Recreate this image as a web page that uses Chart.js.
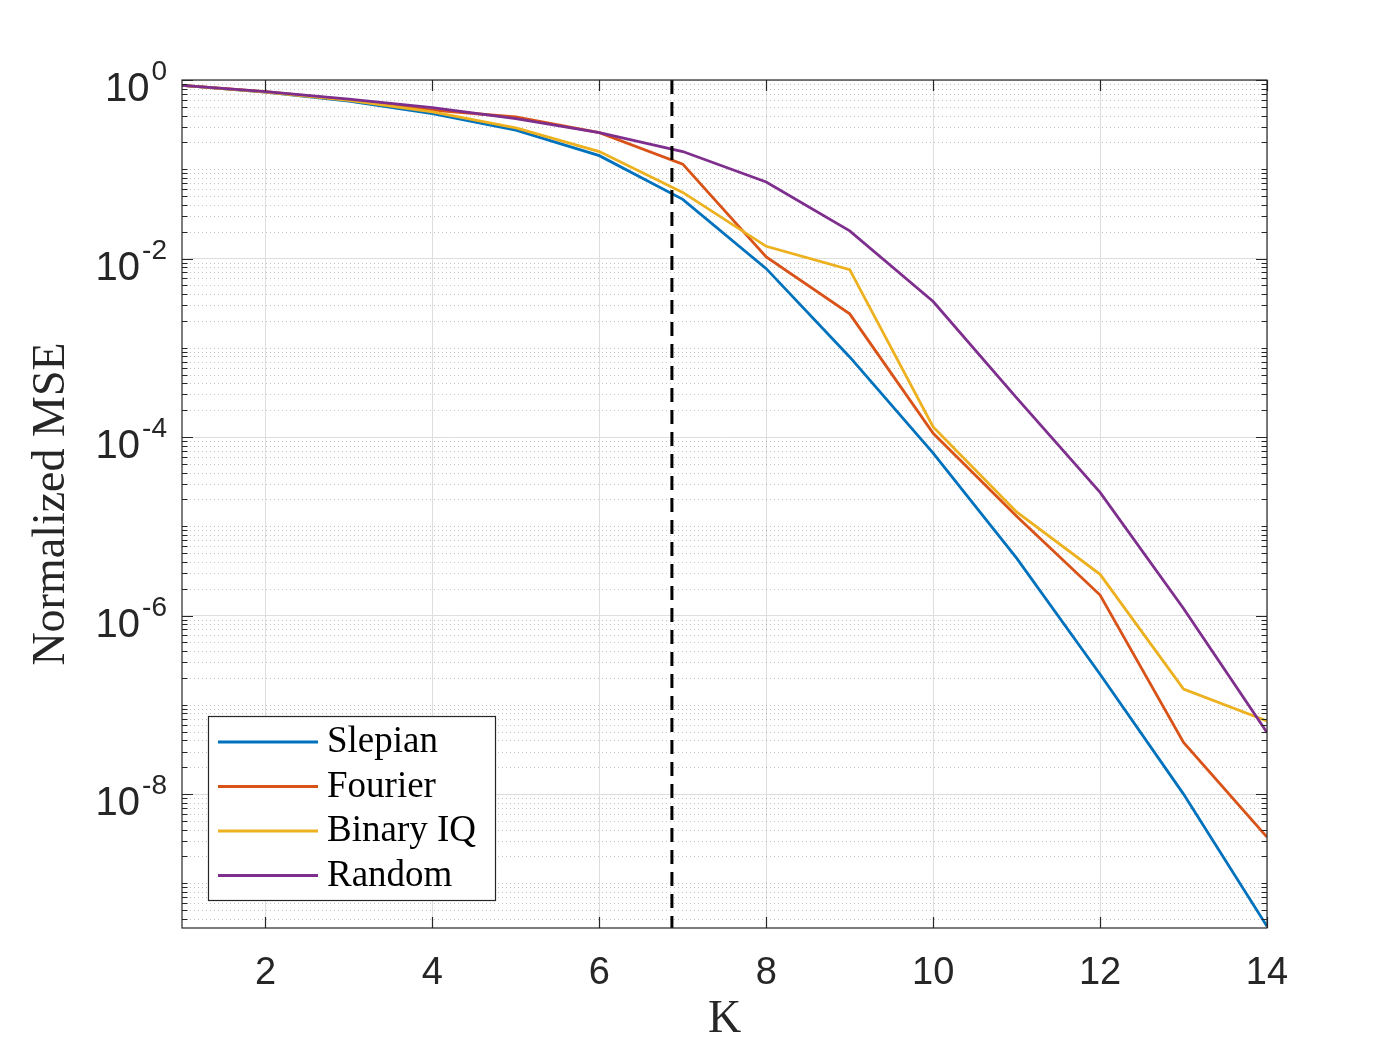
<!DOCTYPE html>
<html>
<head>
<meta charset="utf-8">
<title>Normalized MSE vs K</title>
<script src="https://cdn.jsdelivr.net/npm/chart.js@4.4.1/dist/chart.umd.min.js"></script>
<style>
  html, body { margin: 0; padding: 0; background: #fff; }
  #wrap { width: 1400px; height: 1050px; }
</style>
</head>
<body>
<div id="wrap"><canvas id="chart" width="1400" height="1050"></canvas></div>
<script>
// Valores (K = 1..14)
const kValues = [1, 2, 3, 4, 5, 6, 7, 8, 9, 10, 11, 12, 13, 14];
const slepian = [0.87, 0.73, 0.58, 0.42, 0.275, 0.142, 0.046, 0.0077, 7.9e-4, 6.6e-5, 4.4e-6, 2.2e-7, 1.0e-8, 3.3e-10];
const fourier = [0.87, 0.74, 0.6, 0.46, 0.385, 0.257, 0.114, 0.0104, 0.0024, 1.1e-4, 1.3e-5, 1.7e-6, 3.8e-8, 3.3e-9];
const binaryIQ = [0.87, 0.73, 0.59, 0.44, 0.29, 0.158, 0.055, 0.0137, 0.0075, 1.3e-4, 1.45e-5, 2.9e-6, 1.5e-7, 6.6e-8];
const random = [0.87, 0.74, 0.61, 0.49, 0.37, 0.257, 0.158, 0.072, 0.0204, 3.3e-3, 2.75e-4, 2.4e-5, 1.2e-6, 4.9e-8];

// Linha tracejada vertical
const kThreshold = 6.87;

// Eixos
const xMin = 1, xMax = 14;
const yMin = Math.pow(10, -9.5), yMax = 1;
const xTicks = [2, 4, 6, 8, 10, 12, 14];
const yTickExps = [0, -2, -4, -6, -8];
const yTicks = yTickExps.map(e => Math.pow(10, e));

const seriesNames = ['Slepian', 'Fourier', 'Binary IQ', 'Random'];
const seriesData = [slepian, fourier, binaryIQ, random];
const seriesColors = ['#0072BD', '#D95319', '#EDB120', '#7E2F8E'];

const axisColor = '#262626';
const sansFont = '"Liberation Sans", Arial, sans-serif';
const serifFont = '"Liberation Serif", "Times New Roman", serif';

// Plugin para desenhar grade menor, caixa, marcas, rótulos e legenda no estilo MATLAB
const matlabAxes = {
  id: 'matlabAxes',
  beforeDatasetsDraw(chart) {
    const { ctx, chartArea: a, scales: { y } } = chart;
    ctx.save();
    ctx.strokeStyle = 'rgba(38,38,38,0.28)';
    ctx.lineWidth = 1;
    ctx.setLineDash([1, 3]);
    for (let d = -10; d <= 0; d++) {
      for (let k = 1; k <= 9; k++) {
        const v = k * Math.pow(10, d);
        if (v < yMin || v > yMax) continue;
        if (k === 1 && d % 2 === 0) continue;
        const p = Math.round(y.getPixelForValue(v)) + 0.5;
        ctx.beginPath();
        ctx.moveTo(a.left, p);
        ctx.lineTo(a.right, p);
        ctx.stroke();
      }
    }
    ctx.restore();
  },
  afterDraw(chart) {
    const { ctx, chartArea: a, scales: { x, y } } = chart;
    ctx.save();
    ctx.strokeStyle = axisColor;
    ctx.lineWidth = 1.2;
    ctx.setLineDash([]);

    // Caixa
    ctx.strokeRect(a.left, a.top, a.right - a.left, a.bottom - a.top);

    // Marcas do eixo x (para dentro, em baixo e em cima)
    xTicks.forEach(v => {
      const p = Math.round(x.getPixelForValue(v)) + 0.5;
      ctx.beginPath();
      ctx.moveTo(p, a.bottom); ctx.lineTo(p, a.bottom - 11);
      ctx.moveTo(p, a.top); ctx.lineTo(p, a.top + 11);
      ctx.stroke();
    });

    // Marcas do eixo y (maiores e menores)
    for (let d = -10; d <= 0; d++) {
      for (let k = 1; k <= 9; k++) {
        const v = k * Math.pow(10, d);
        if (v < yMin * 0.999 || v > yMax * 1.001) continue;
        const major = (k === 1 && d % 2 === 0);
        const len = major ? 11 : 5.5;
        const p = Math.round(y.getPixelForValue(v)) + 0.5;
        ctx.beginPath();
        ctx.moveTo(a.left, p); ctx.lineTo(a.left + len, p);
        ctx.moveTo(a.right, p); ctx.lineTo(a.right - len, p);
        ctx.stroke();
      }
    }

    // Rótulos do eixo x
    ctx.fillStyle = axisColor;
    ctx.font = '38px ' + sansFont;
    ctx.textAlign = 'center';
    ctx.textBaseline = 'middle';
    xTicks.forEach(v => {
      ctx.fillText(String(v), x.getPixelForValue(v), 974);
    });

    // Rótulos do eixo y: 10^n
    yTickExps.forEach((e, i) => {
      const p = y.getPixelForValue(yTicks[i]);
      const sup = String(e);
      ctx.textBaseline = 'alphabetic';
      ctx.textAlign = 'right';
      ctx.font = '28px ' + sansFont;
      const supRight = 167;
      const supW = ctx.measureText(sup).width;
      ctx.fillText(sup, supRight, p);
      ctx.font = '40px ' + sansFont;
      ctx.fillText('10', supRight - supW - 2, p + 21);
    });

    // Títulos dos eixos
    ctx.font = '46px ' + serifFont;
    ctx.textAlign = 'center';
    ctx.textBaseline = 'middle';
    ctx.fillText('K', (a.left + a.right) / 2, 1020);
    ctx.save();
    ctx.translate(52, (a.top + a.bottom) / 2);
    ctx.rotate(-Math.PI / 2);
    ctx.fillText('Normalized MSE', 0, 0);
    ctx.restore();

    // Legenda
    const lx = 208.5, ly = 716.5, lw = 287, lh = 184;
    ctx.fillStyle = '#ffffff';
    ctx.fillRect(lx, ly, lw, lh);
    ctx.strokeStyle = axisColor;
    ctx.lineWidth = 1.2;
    ctx.strokeRect(lx, ly, lw, lh);
    ctx.font = '37px ' + serifFont;
    ctx.textAlign = 'left';
    ctx.textBaseline = 'alphabetic';
    seriesNames.forEach((name, i) => {
      const ry = 742 + i * 44.5;
      ctx.strokeStyle = seriesColors[i];
      ctx.lineWidth = 2.8;
      ctx.beginPath();
      ctx.moveTo(218, ry); ctx.lineTo(318, ry);
      ctx.stroke();
      ctx.fillStyle = '#000000';
      ctx.fillText(name, 327, ry + 10);
    });
    ctx.restore();
  }
};

const datasets = seriesNames.map((name, i) => ({
  label: name,
  data: kValues.map((k, j) => ({ x: k, y: seriesData[i][j] })),
  borderColor: seriesColors[i],
  backgroundColor: seriesColors[i],
  borderWidth: 2.8,
  pointRadius: 0,
  tension: 0,
  fill: false,
  order: 4 - i
}));

datasets.push({
  label: 'limite',
  data: [{ x: kThreshold, y: yMax }, { x: kThreshold, y: yMin }],
  borderColor: '#000000',
  borderWidth: 3,
  borderDash: [14, 8],
  pointRadius: 0,
  fill: false,
  order: 0
});

const ctx = document.getElementById('chart').getContext('2d');
new Chart(ctx, {
  type: 'line',
  data: { datasets: datasets },
  options: {
    responsive: false,
    animation: false,
    layout: { padding: { left: 182, right: 133, top: 80, bottom: 122 } },
    plugins: {
      legend: { display: false },
      tooltip: { enabled: false }
    },
    scales: {
      x: {
        type: 'linear',
        min: xMin,
        max: xMax,
        afterBuildTicks: scale => { scale.ticks = xTicks.map(v => ({ value: v })); },
        afterFit: scale => { scale.height = 0; },
        ticks: { display: false },
        grid: { color: '#dedede', lineWidth: 1, drawTicks: false },
        border: { display: false }
      },
      y: {
        type: 'logarithmic',
        min: yMin,
        max: yMax,
        afterBuildTicks: scale => { scale.ticks = yTicks.map(v => ({ value: v })); },
        afterFit: scale => { scale.width = 0; },
        ticks: { display: false },
        grid: { color: '#dedede', lineWidth: 1, drawTicks: false },
        border: { display: false }
      }
    }
  },
  plugins: [matlabAxes]
});
</script>
</body>
</html>
